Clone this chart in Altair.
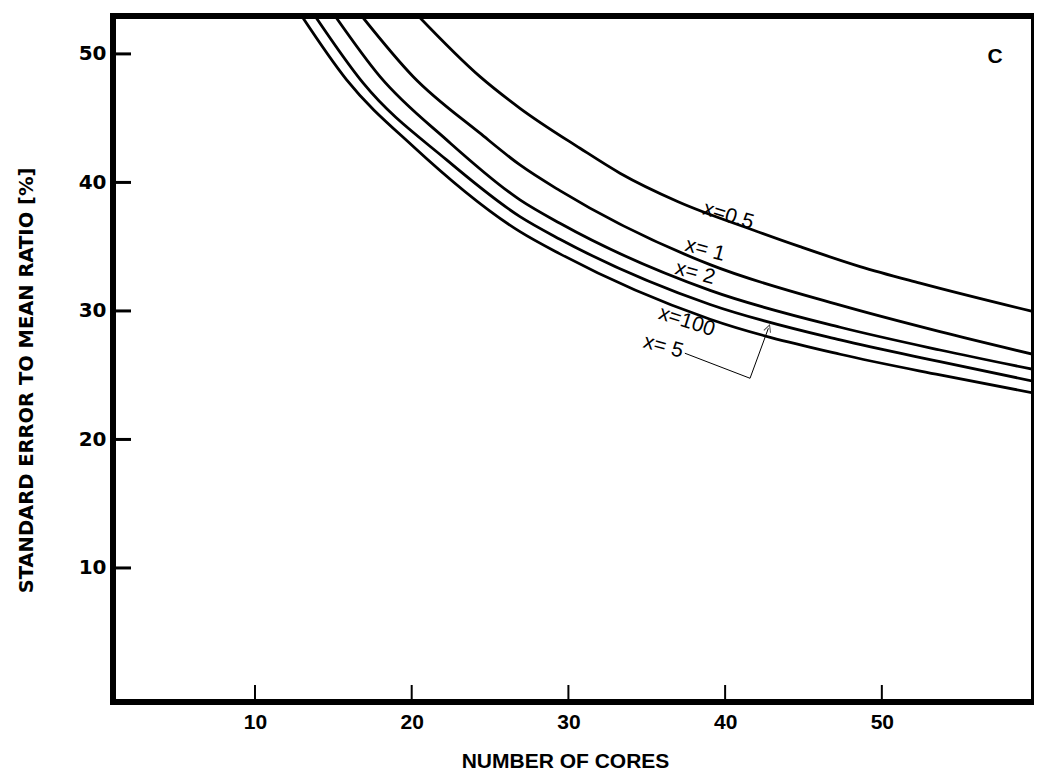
import altair as alt
import pandas as pd

# ---- data ----
n_05 = [20.42, 24.36, 26.91, 30.74, 33.29, 37.00, 41.78, 44.78, 48.61, 52.44, 60.09]
y_05 = [52.95, 48.23, 45.77, 42.66, 40.72, 38.50, 36.30, 35.00, 33.45, 32.16, 29.82]

n_1 = [16.81, 20.10, 24.36, 26.91, 29.46, 39.04, 47.34, 53.71, 60.09]
y_1 = [52.95, 48.23, 43.83, 41.36, 39.36, 33.60, 30.45, 28.39, 26.50]

n_2 = [15.11, 17.98, 22.23, 26.91, 29.46, 39.04, 47.34, 53.71, 60.09]
y_2 = [52.95, 48.23, 43.31, 38.64, 36.82, 31.60, 28.73, 26.96, 25.35]

n_5 = [13.83, 16.91, 22.23, 26.91, 29.46, 39.04, 47.34, 53.71, 60.09]
y_5 = [52.95, 47.72, 41.75, 37.34, 35.58, 30.50, 27.74, 26.05, 24.42]

n_100 = [12.98, 15.85, 20.10, 26.91, 29.46, 39.04, 47.34, 53.71, 60.09]
y_100 = [52.95, 47.98, 42.80, 36.17, 34.44, 29.35, 26.63, 25.02, 23.52]

label_text = ["x=0.5", "x= 1", "x= 2", "x=100", "x= 5"]
label_n = [40.20, 38.72, 38.08, 37.55, 36.06]
label_y = [37.40, 34.75, 32.93, 29.17, 27.22]
label_angle = [17, 15, 15, 18, 15]

arrow_n = [37.43, 41.59, 42.76]
arrow_y = [26.71, 24.76, 28.65]

x_ticks = [10, 20, 30, 40, 50]
y_ticks = [10, 20, 30, 40, 50]

W, H = 921, 686
X_DOM = [0.94, 59.71]
Y_DOM = [-0.43, 52.95]
FONT = "Liberation Sans"
WIDE = "DejaVu Sans"

rows = []
for name, ns, ys in [("0.5", n_05, y_05), ("1", n_1, y_1), ("2", n_2, y_2),
                     ("5", n_5, y_5), ("100", n_100, y_100)]:
    for n, y in zip(ns, ys):
        rows.append({"series": name, "n": n, "y": y})
curves = pd.DataFrame(rows)

labels = pd.DataFrame({"text": label_text, "n": label_n, "y": label_y, "angle": label_angle})
arrow = pd.DataFrame({"n": arrow_n, "y": arrow_y, "order": [0, 1, 2]})
xt = pd.DataFrame({"v": x_ticks})
yt = pd.DataFrame({"v": y_ticks})

xscale = alt.Scale(domain=X_DOM, nice=False, zero=False)
yscale = alt.Scale(domain=Y_DOM, nice=False, zero=False)

x_axis = alt.Axis(
    values=x_ticks, ticks=False, domain=False, grid=False,
    labelFont=FONT, labelFontSize=21, labelFontWeight="bold", labelPadding=9, labelColor="black",
    title="NUMBER OF CORES", titleFont=FONT, titleFontSize=21, titleFontWeight="bold",
    titleColor="black", titleX=452, titleY=65, titleAlign="center", titleBaseline="alphabetic",
)
y_axis = alt.Axis(
    values=y_ticks, ticks=False, domain=False, grid=False,
    labelFont=WIDE, labelFontSize=20, labelFontWeight="bold", labelPadding=7, labelColor="black",
    title="STANDARD ERROR TO MEAN RATIO [%]", titleFont=WIDE, titleFontSize=19.5,
    titleFontWeight="bold", titleColor="black", titleAngle=-90, titleX=-87, titleY=364,
    titleAlign="center", titleBaseline="middle",
)

lines = alt.Chart(curves).mark_line(
    color="black", strokeWidth=2.8, clip=True, interpolate="monotone"
).encode(
    x=alt.X("n:Q", scale=xscale, axis=x_axis),
    y=alt.Y("y:Q", scale=yscale, axis=y_axis),
    detail="series:N",
)

text = alt.Chart(labels).mark_text(
    font=FONT, fontSize=21, color="black", align="center", baseline="middle"
).encode(
    x=alt.X("n:Q", scale=xscale),
    y=alt.Y("y:Q", scale=yscale),
    text="text:N",
    angle=alt.Angle("angle:Q", scale=None),
)

arrow_line = alt.Chart(arrow).mark_line(color="black", strokeWidth=1).encode(
    x=alt.X("n:Q", scale=xscale),
    y=alt.Y("y:Q", scale=yscale),
    order="order:Q",
)

arrow_head = alt.Chart(arrow.iloc[[2]]).mark_point(
    shape="M-1,1L0,-1L1,1", filled=False, color="black", strokeWidth=1, size=50, angle=20
).encode(
    x=alt.X("n:Q", scale=xscale),
    y=alt.Y("y:Q", scale=yscale),
)

c_label = alt.Chart(pd.DataFrame({"n": [57.22], "y": [49.77], "t": ["C"]})).mark_text(
    font=FONT, fontSize=21, fontWeight="bold", color="black", align="center", baseline="middle"
).encode(
    x=alt.X("n:Q", scale=xscale),
    y=alt.Y("y:Q", scale=yscale),
    text="t:N",
)

xtick_marks = alt.Chart(xt).mark_rule(color="black", strokeWidth=2).encode(
    x=alt.X("v:Q", scale=xscale),
    y=alt.value(H),
    y2=alt.value(H - 17),
)
ytick_marks = alt.Chart(yt).mark_rule(color="black", strokeWidth=3).encode(
    y=alt.Y("v:Q", scale=yscale),
    x=alt.value(0),
    x2=alt.value(18),
)

chart = alt.layer(
    lines, text, arrow_line, arrow_head, c_label, xtick_marks, ytick_marks
).properties(
    width=W, height=H,
    autosize=alt.AutoSizeParams(type="none"),
    padding={"left": 105, "top": 8, "right": 0, "bottom": 69},
).configure(
    font=FONT,
).configure_view(
    stroke="black", strokeWidth=6,
)

chart.save("out.html", embed_options={"renderer": "svg", "actions": False})
